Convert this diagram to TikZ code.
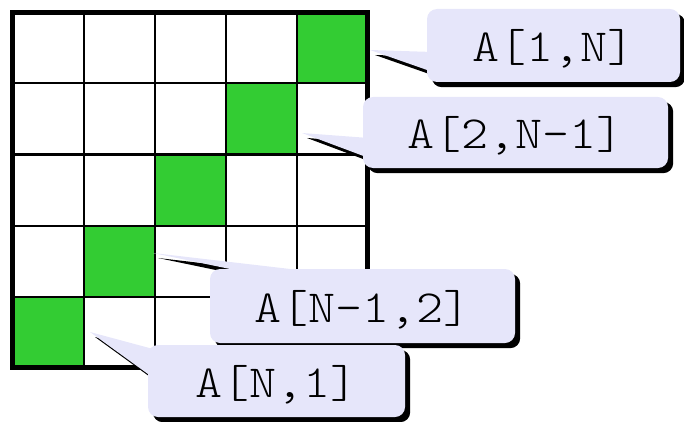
\documentclass[tikz,border=0pt]{standalone}
\usepackage{fontspec}
\newfontfamily\calloutmono{Latin Modern Mono Light}[FakeStretch=1.12]
\usetikzlibrary{calc}
\definecolor{cellgreen}{RGB}{51,204,51}
\definecolor{calloutfill}{RGB}{230,230,250}
\pgfdeclarelayer{gridlayer}
\pgfdeclarelayer{shadelayer}
\pgfsetlayers{gridlayer,shadelayer,main}
\tikzset{
  greencell/.style={fill=cellgreen},
  gridline/.style={line width=2pt},
  gridframe/.style={line width=5pt},
  callbox/.style={fill=calloutfill, rounded corners=10pt, inner sep=0pt,
    text height=33pt, text depth=0pt,
    font=\calloutmono\fontsize{46}{46}\selectfont},
  shade/.style={fill=black, transform canvas={xshift=5pt,yshift=-5pt}},
  pointer/.style={fill=calloutfill},
}
\begin{document}
\begin{tikzpicture}[x=1pt,y=-1pt]
\useasboundingbox (0,0) rectangle (684,422);

% anti-diagonal cells and the 5x5 grid
\begin{pgfonlayer}{gridlayer}
  \foreach \r in {0,...,4}{
    \pgfmathtruncatemacro{\c}{4-\r}
    \fill[greencell] (12.5+71*\c,12.5+71*\r) rectangle ++(71,71);
  }
  \foreach \k in {1,...,4}{
    \draw[gridline] (12.5+71*\k,12.5) -- (12.5+71*\k,367.5);
    \draw[gridline] (12.5,12.5+71*\k) -- (367.5,12.5+71*\k);
  }
  \draw[gridframe] (12.5,12.5) rectangle (367.5,367.5);
\end{pgfonlayer}

% callout boxes
\node[callbox, minimum width=253pt, minimum height=73pt] (b1) at (553.5,45.5) {A[1,N]};
\node[callbox, minimum width=305pt, minimum height=71pt] (b2) at (515.5,132.5) {A[2,N-1]};
\node[callbox, minimum width=305pt, minimum height=74pt] (b3) at (362.5,306) {A[N-1,2]};
\node[callbox, minimum width=257pt, minimum height=72pt] (b4) at (276.5,381) {A[N,1]};

% pointer tips
\coordinate (t1) at (370,50);
\coordinate (t2) at (302,133);
\coordinate (t3) at (153,253);
\coordinate (t4) at (90,332);

% pointers
\fill[pointer] (t1) -- ($(b1.west)+(6,6.5)$) -- ($(b1.west)+(6,26.5)$) -- cycle;
\fill[pointer] (t2) -- ($(b2.west)+(6,5.5)$) -- ($(b2.west)+(6,25.5)$) -- cycle;
\fill[pointer] (t3) -- ($(b3.north)+(-22.5,6)$) -- ($(b3.north)+(-104.5,6)$) -- cycle;
\fill[pointer] (t4) -- ($(b4.north west)+(12,6)$) -- ($(b4.north west)+(4,32)$) -- cycle;

% drop shadows
\begin{pgfonlayer}{shadelayer}
  \foreach \b in {b1,b2,b3,b4}{
    \fill[shade, rounded corners=10pt] (\b.north west) rectangle (\b.south east);
  }
  \fill[shade] (t1) -- ($(b1.west)+(6,6.5)$) -- ($(b1.west)+(6,26.5)$) -- cycle;
  \fill[shade] (t2) -- ($(b2.west)+(6,5.5)$) -- ($(b2.west)+(6,25.5)$) -- cycle;
  \fill[shade] (t3) -- ($(b3.north)+(-22.5,6)$) -- ($(b3.north)+(-104.5,6)$) -- cycle;
  \fill[shade] (t4) -- ($(b4.north west)+(12,6)$) -- ($(b4.north west)+(4,32)$) -- cycle;
\end{pgfonlayer}
\end{tikzpicture}
\end{document}
